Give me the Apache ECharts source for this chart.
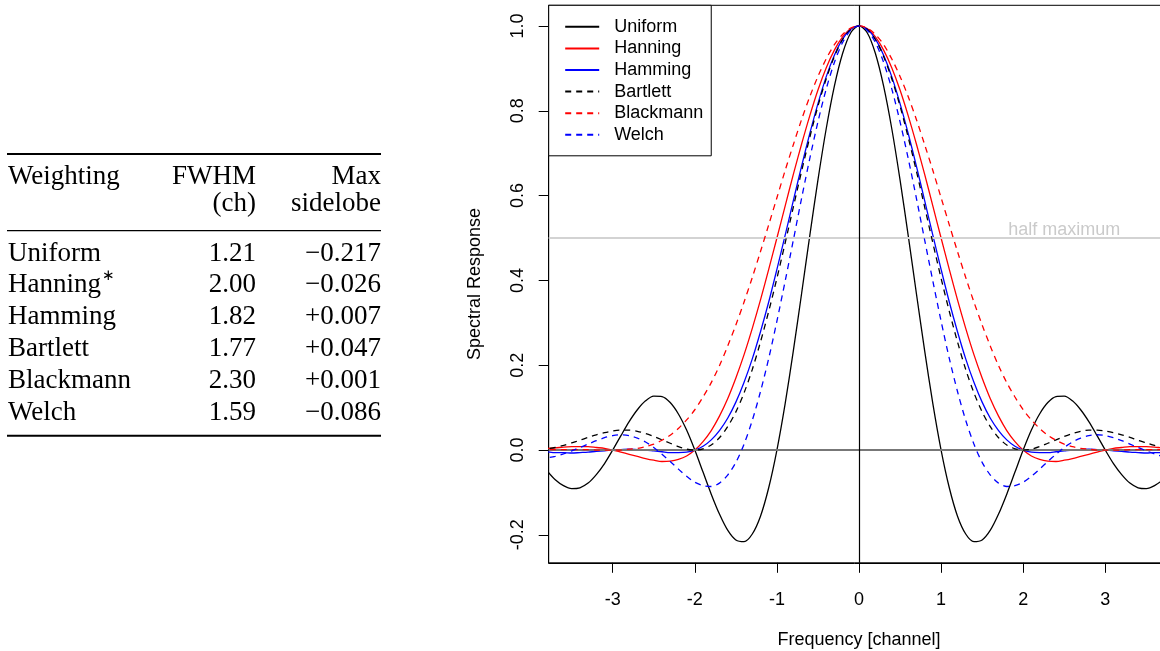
<!DOCTYPE html>
<html>
<head>
<meta charset="utf-8">
<script src="https://cdn.jsdelivr.net/npm/echarts@6/dist/echarts.min.js"></script>
<style>
html,body{margin:0;padding:0;background:#fff;}
#chart{width:1160px;height:651px;}
</style>
</head>
<body>
<div id="chart"></div>
<script>
// ---- data ----
const freq = [-3.9,-3.8,-3.7,-3.6,-3.5,-3.4,-3.3,-3.2,-3.1,-3.0,-2.9,-2.8,-2.7,-2.6,-2.5,-2.4,-2.3,-2.2,-2.1,-2.0,-1.9,-1.8,-1.7,-1.6,-1.5,-1.4,-1.3,-1.2,-1.1,-1.0,-0.9,-0.8,-0.7,-0.6,-0.5,-0.4,-0.3,-0.2,-0.1,0,0.1,0.2,0.3,0.4,0.5,0.6,0.7,0.8,0.9,1.0,1.1,1.2,1.3,1.4,1.5,1.6,1.7,1.8,1.9,2.0,2.1,2.2,2.3,2.4,2.5,2.6,2.7,2.8,2.9,3.0,3.1,3.2,3.3,3.4,3.5,3.6,3.7,3.8,3.9];

const uniform = [-0.025,-0.049,-0.070,-0.084,-0.091,-0.089,-0.078,-0.058,-0.032,0,0.034,0.067,0.095,0.116,0.127,0.126,0.112,0.085,0.047,0,-0.052,-0.104,-0.151,-0.189,-0.212,-0.216,-0.198,-0.156,-0.089,0,0.109,0.234,0.368,0.505,0.637,0.757,0.858,0.935,0.984,1,0.984,0.935,0.858,0.757,0.637,0.505,0.368,0.234,0.109,0,-0.089,-0.156,-0.198,-0.216,-0.212,-0.189,-0.151,-0.104,-0.052,0,0.047,0.085,0.112,0.126,0.127,0.116,0.095,0.067,0.034,0,-0.032,-0.058,-0.078,-0.089,-0.091,-0.084,-0.070,-0.049,-0.025];

const hanning = [0.002,0.004,0.005,0.007,0.008,0.008,0.008,0.006,0.004,0,-0.005,-0.010,-0.015,-0.020,-0.024,-0.027,-0.026,-0.022,-0.014,0,0.020,0.046,0.080,0.121,0.170,0.225,0.287,0.354,0.426,0.500,0.575,0.650,0.721,0.788,0.849,0.901,0.943,0.974,0.994,1,0.994,0.974,0.943,0.901,0.849,0.788,0.721,0.650,0.575,0.500,0.426,0.354,0.287,0.225,0.170,0.121,0.080,0.046,0.020,0,-0.014,-0.022,-0.026,-0.027,-0.024,-0.020,-0.015,-0.010,-0.005,0,0.004,0.006,0.008,0.008,0.008,0.007,0.005,0.004,0.002];

const hamming = [-0.002,-0.004,-0.006,-0.006,-0.007,-0.006,-0.005,-0.003,-0.002,0,0.001,0.002,0.001,0,-0.002,-0.004,-0.006,-0.006,-0.005,0,0.009,0.024,0.046,0.075,0.113,0.160,0.215,0.279,0.349,0.426,0.506,0.588,0.669,0.746,0.817,0.880,0.931,0.969,0.992,1,0.992,0.969,0.931,0.880,0.817,0.746,0.669,0.588,0.506,0.426,0.349,0.279,0.215,0.160,0.113,0.075,0.046,0.024,0.009,0,-0.005,-0.006,-0.006,-0.004,-0.002,0,0.001,0.002,0.001,0,-0.002,-0.003,-0.005,-0.006,-0.007,-0.006,-0.006,-0.004,-0.002];

const bartlett = [0.001,0.003,0.006,0.011,0.017,0.023,0.030,0.036,0.041,0.045,0.047,0.047,0.044,0.039,0.032,0.024,0.016,0.008,0.002,0,0.003,0.012,0.029,0.055,0.090,0.135,0.190,0.255,0.327,0.405,0.488,0.573,0.657,0.737,0.811,0.875,0.928,0.968,0.992,1,0.992,0.968,0.928,0.875,0.811,0.737,0.657,0.573,0.488,0.405,0.327,0.255,0.190,0.135,0.090,0.055,0.029,0.012,0.003,0,0.002,0.008,0.016,0.024,0.032,0.039,0.044,0.047,0.047,0.045,0.041,0.036,0.030,0.023,0.017,0.011,0.006,0.003,0.001];

const blackmann = [0,0.001,0.001,0.001,0.001,0.001,0.001,0,0,0,0,0.002,0.004,0.008,0.014,0.023,0.035,0.051,0.071,0.095,0.125,0.159,0.199,0.245,0.295,0.349,0.407,0.468,0.531,0.595,0.659,0.720,0.779,0.833,0.881,0.922,0.956,0.980,0.995,1,0.995,0.980,0.956,0.922,0.881,0.833,0.779,0.720,0.659,0.595,0.531,0.468,0.407,0.349,0.295,0.245,0.199,0.159,0.125,0.095,0.071,0.051,0.035,0.023,0.014,0.008,0.004,0.002,0,0,0,0,0.001,0.001,0.001,0.001,0.001,0.001,0];

const welch = [-0.020,-0.018,-0.015,-0.009,-0.002,0.006,0.014,0.022,0.029,0.034,0.036,0.034,0.028,0.019,0.006,-0.010,-0.027,-0.045,-0.062,-0.076,-0.084,-0.086,-0.078,-0.059,-0.029,0.014,0.070,0.138,0.216,0.304,0.398,0.495,0.593,0.687,0.774,0.851,0.914,0.961,0.990,1,0.990,0.961,0.914,0.851,0.774,0.687,0.593,0.495,0.398,0.304,0.216,0.138,0.070,0.014,-0.029,-0.059,-0.078,-0.086,-0.084,-0.076,-0.062,-0.045,-0.027,-0.010,0.006,0.019,0.028,0.034,0.036,0.034,0.029,0.022,0.014,0.006,-0.002,-0.009,-0.015,-0.018,-0.020];

const seriesNames = ['Uniform','Hanning','Hamming','Bartlett','Blackmann','Welch'];
const xTicks = [-3,-2,-1,0,1,2,3];
const yTicks = [-0.2,0,0.2,0.4,0.6,0.8,1.0];
const halfMaximum = 0.5;
const halfMaxLabelAt = 2.5;

// table
const tableHeader1 = ['Weighting','FWHM','Max'];
const tableHeader2 = ['','(ch)','sidelobe'];
const tableNames = ['Uniform','Hanning','Hamming','Bartlett','Blackmann','Welch'];
const tableStar = ['','∗','','','',''];
const tableFwhm = ['1.21','2.00','1.82','1.77','2.30','1.59'];
const tableSidelobe = ['−0.217','−0.026','+0.007','+0.047','+0.001','−0.086'];

// ---- build ----
const SANS = '"Liberation Sans", Arial, Helvetica, sans-serif';
const SERIF = '"Liberation Serif", "Times New Roman", serif';
const TFS = 27;
const tfont = TFS + 'px ' + SERIF;

const measure = (t, font) => {
  const c = document.createElement('canvas').getContext('2d');
  c.font = font; return c.measureText(t).width;
};

function txt(text, x, y, align, font) {
  return {type:'text', silent:true, z:10,
    style:{text:text, x:x, y:y, font:font||tfont, fill:'#000',
      textAlign:align, align:align, textVerticalAlign:'middle', verticalAlign:'middle'}};
}
function rule(y, w) {
  return {type:'line', silent:true, z:10, shape:{x1:7, y1:y, x2:381, y2:y}, style:{stroke:'#000', lineWidth:w}};
}

const colL = 8, colF = 256, colM = 381;
const graphics = [];
graphics.push(rule(154, 2));
graphics.push(txt(tableHeader1[0], colL, 177, 'left'));
graphics.push(txt(tableHeader1[1], colF, 177, 'right'));
graphics.push(txt(tableHeader1[2], colM, 177, 'right'));
graphics.push(txt(tableHeader2[1], colF, 204, 'right'));
graphics.push(txt(tableHeader2[2], colM, 204, 'right'));
graphics.push(rule(230.7, 1.3));
tableNames.forEach((n, i) => {
  const y = 253.5 + 31.8 * i;
  graphics.push(txt(n, colL, y, 'left'));
  if (tableStar[i]) {
    const w = measure(n, tfont);
    graphics.push(txt(tableStar[i], colL + w + 1, y - 9, 'left', '15px ' + SERIF));
  }
  graphics.push(txt(tableFwhm[i], colF, y, 'right'));
  graphics.push(txt(tableSidelobe[i], colM, y, 'right'));
});
graphics.push(rule(435.7, 2));

const curveData = [uniform, hanning, hamming, bartlett, blackmann, welch];
const colors = ['#000000','#ff0000','#0000ff','#000000','#ff0000','#0000ff'];
const dashed = [false,false,false,true,true,true];

const series = [];
series.push({
  name:'ref', type:'scatter', silent:true, symbolSize:0.001, z:1,
  data:[[halfMaxLabelAt, halfMaximum]],
  itemStyle:{color:'rgba(0,0,0,0)'},
  label:{show:true, position:'top', distance:-1, formatter:'half maximum',
    color:'#bdbdbd', fontSize:18, fontFamily:SANS},
  markLine:{silent:true, symbol:['none','none'], animation:false, label:{show:false},
    data:[
      {yAxis:halfMaximum, lineStyle:{color:'#d3d3d3', width:2, type:'solid'}},
      {yAxis:0, lineStyle:{color:'#777777', width:2, type:'solid'}},
      {xAxis:0, lineStyle:{color:'#000000', width:1.2, type:'solid'}}
    ]}
});
curveData.forEach((arr, k) => {
  series.push({
    name: seriesNames[k], type:'line', symbol:'none', showSymbol:false, smooth:0.3, z:2+k,
    clip:true, animation:false,
    data: freq.map((f, i) => [f, arr[i]]),
    lineStyle:{color:colors[k], width:1.3, type: dashed[k] ? [6,5] : 'solid'},
    itemStyle:{color:colors[k]}
  });
});

const chart = echarts.init(document.getElementById('chart'), null, {renderer:'canvas'});
chart.setOption({
  animation:false,
  backgroundColor:'#ffffff',
  textStyle:{fontFamily:SANS},
  grid:{left:548.7, width:620.6, top:5.3, bottom:88.2, show:true, borderColor:'#000', borderWidth:1,
    containLabel:false, outerBoundsMode:'none'},
  xAxis:{type:'value', min:-3.78, max:3.78,
    name:'Frequency [channel]', nameLocation:'middle', nameGap:68,
    nameTextStyle:{fontSize:18, color:'#000', fontFamily:SANS},
    axisLine:{show:true, onZero:false, lineStyle:{color:'#000', width:1}},
    axisTick:{show:true, length:10, inside:false, customValues:xTicks, lineStyle:{color:'#000'}},
    axisLabel:{show:true, customValues:xTicks, fontSize:18, color:'#000', margin:28, fontFamily:SANS,
      formatter:(v)=>String(v)},
    splitLine:{show:false}},
  yAxis:{type:'value', min:-0.2659, max:1.0487,
    name:'Spectral Response', nameLocation:'middle', nameGap:65, nameRotate:90,
    nameTextStyle:{fontSize:18, color:'#000', fontFamily:SANS},
    axisLine:{show:true, onZero:false, lineStyle:{color:'#000', width:1}},
    axisTick:{show:true, length:10, inside:false, customValues:yTicks, lineStyle:{color:'#000'}},
    axisLabel:{show:true, customValues:yTicks, rotate:90, fontSize:18, color:'#000', margin:22, fontFamily:SANS,
      formatter:(v)=>v.toFixed(1)},
    splitLine:{show:false}},
  legend:{show:true, data:seriesNames, orient:'vertical', align:'left',
    left:548.7, top:5.3, padding:[12.5,8,12,15.5], itemGap:3.6,
    itemWidth:34, itemHeight:14,
    itemStyle:{color:'rgba(0,0,0,0)', borderWidth:0, opacity:0},
    backgroundColor:'#fff', borderColor:'#000', borderWidth:1, borderRadius:0,
    textStyle:{fontSize:18, color:'#000', fontFamily:SANS, padding:[0,0,0,10]},
    selectedMode:false},
  series:series,
  graphic:graphics
});
</script>
</body>
</html>
